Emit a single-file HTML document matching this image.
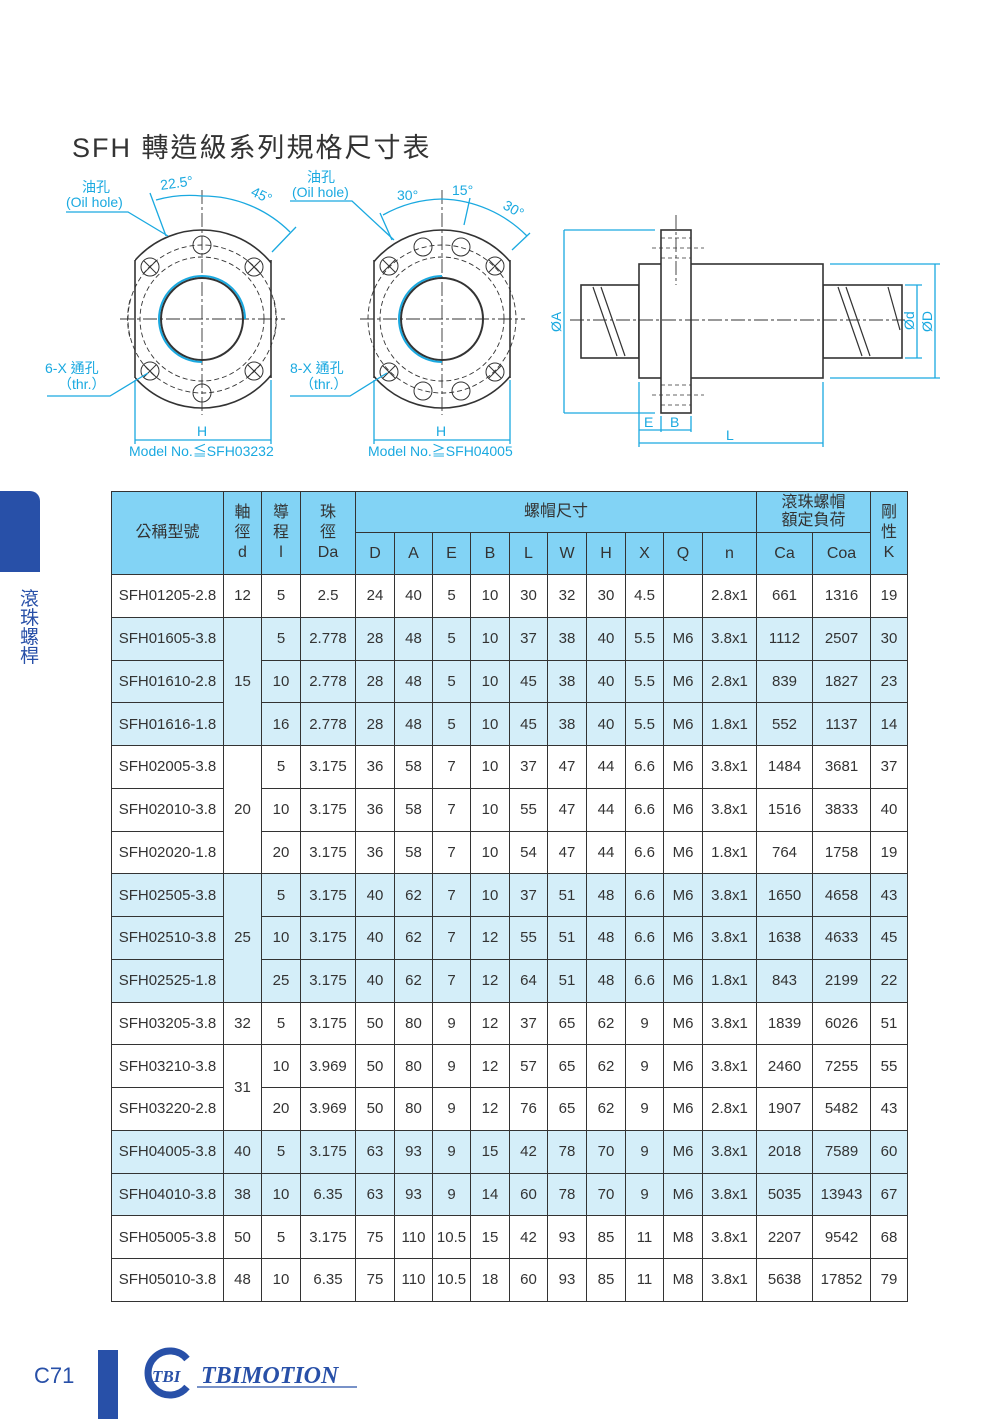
<!DOCTYPE html>
<html><head><meta charset="utf-8">
<style>
*{margin:0;padding:0;box-sizing:border-box}
body{width:1000px;height:1419px;background:#fff;position:relative;overflow:hidden;font-family:"Liberation Sans","Noto Sans CJK TC",sans-serif}
.abs{position:absolute}
table{position:absolute;left:111px;top:491px;border-collapse:collapse;table-layout:fixed;font-family:"Liberation Sans Narrow","Liberation Sans","Noto Sans CJK TC",sans-serif;font-size:15px;color:#333}
td{border:1.3px solid #333;text-align:center;vertical-align:middle;padding:0;white-space:nowrap;overflow:hidden}
tr.d td{height:42.76px}
.h td{background:#82d3f5;line-height:20px;font-size:16px}
.b td{background:#d4eef9}
</style></head><body>
<div class="abs" style="left:72px;top:126px;font-size:27px;color:#333;font-family:'Liberation Sans','Noto Sans CJK TC',sans-serif;letter-spacing:2px">SFH 轉造級系列規格尺寸表</div>

<svg class="abs" style="left:0;top:0" width="1000" height="470" viewBox="0 0 1000 470">
<defs>
<clipPath id="c1"><rect x="135" y="200" width="136" height="240"/></clipPath>
<clipPath id="c2"><rect x="374" y="200" width="136" height="240"/></clipPath>
</defs>
<g fill="none" stroke="#333" stroke-width="1.6">
<g clip-path="url(#c1)"><circle cx="202" cy="319" r="89"/></g>
<line x1="135" y1="260" x2="135" y2="378"/><line x1="271" y1="260" x2="271" y2="378"/>
<circle cx="202" cy="319" r="41" stroke-width="2"/>
<g stroke-width="1"><circle cx="202" cy="245" r="9"/><circle cx="202" cy="393" r="9"/><circle cx="150" cy="267" r="9"/><circle cx="254" cy="267" r="9"/><circle cx="150" cy="371" r="9"/><circle cx="254" cy="371" r="9"/>
<line x1="144" y1="261" x2="156" y2="273"/><line x1="156" y1="261" x2="144" y2="273"/><line x1="248" y1="261" x2="260" y2="273"/><line x1="260" y1="261" x2="248" y2="273"/>
<line x1="144" y1="365" x2="156" y2="377"/><line x1="156" y1="365" x2="144" y2="377"/><line x1="248" y1="365" x2="260" y2="377"/><line x1="260" y1="365" x2="248" y2="377"/>
</g>
<g stroke-width="0.9" stroke-dasharray="5,3"><circle cx="202" cy="319" r="74"/><circle cx="202" cy="319" r="62"/>
<path d="M130 300 A76 76 0 0 0 130 338" /><path d="M274 300 A76 76 0 0 1 274 338"/></g>
<g stroke-width="0.9" stroke-dasharray="14,3,3,3"><line x1="120" y1="319" x2="285" y2="319"/><line x1="202" y1="190" x2="202" y2="415"/></g>
<g clip-path="url(#c2)"><circle cx="442" cy="319" r="89"/></g>
<line x1="374" y1="260" x2="374" y2="378"/><line x1="510" y1="260" x2="510" y2="378"/>
<circle cx="442" cy="319" r="41" stroke-width="2"/>
<g stroke-width="1"><circle cx="423" cy="247" r="9"/><circle cx="461" cy="247" r="9"/><circle cx="423" cy="391" r="9"/><circle cx="461" cy="391" r="9"/><circle cx="389" cy="266" r="9"/><circle cx="495" cy="266" r="9"/><circle cx="389" cy="372" r="9"/><circle cx="495" cy="372" r="9"/>
<line x1="383" y1="260" x2="395" y2="272"/><line x1="395" y1="260" x2="383" y2="272"/><line x1="489" y1="260" x2="501" y2="272"/><line x1="501" y1="260" x2="489" y2="272"/>
<line x1="383" y1="366" x2="395" y2="378"/><line x1="395" y1="366" x2="383" y2="378"/><line x1="489" y1="366" x2="501" y2="378"/><line x1="501" y1="366" x2="489" y2="378"/></g>
<g stroke-width="0.9" stroke-dasharray="5,3"><circle cx="442" cy="319" r="74"/><circle cx="442" cy="319" r="62"/></g>
<g stroke-width="0.9" stroke-dasharray="14,3,3,3"><line x1="360" y1="319" x2="525" y2="319"/><line x1="442" y1="190" x2="442" y2="415"/></g>
<rect x="581" y="285" width="58" height="73"/><rect x="823" y="285" width="79" height="73"/>
<rect x="639" y="264" width="184" height="114" fill="#fff"/>
<rect x="661" y="230" width="30" height="183" fill="#fff"/>
<g stroke-width="1.2"><line x1="593" y1="287" x2="617" y2="356"/><line x1="601" y1="287" x2="625" y2="356"/><line x1="838" y1="287" x2="862" y2="356"/><line x1="846" y1="287" x2="870" y2="356"/><line x1="888" y1="287" x2="900" y2="330"/></g>
<g stroke-width="0.9" stroke-dasharray="14,3,3,3"><line x1="570" y1="320" x2="905" y2="320"/><line x1="676" y1="215" x2="676" y2="285"/></g>
<g stroke-width="0.8" stroke-dasharray="4,3"><line x1="661" y1="238" x2="691" y2="238"/><line x1="661" y1="258" x2="691" y2="258"/><line x1="652" y1="248" x2="704" y2="248"/><line x1="661" y1="385" x2="691" y2="385"/><line x1="661" y1="405" x2="691" y2="405"/><line x1="652" y1="395" x2="704" y2="395"/></g>
</g>
<g fill="none" stroke="#1aa9e0" stroke-width="1.3">
<path d="M245 319 A43 43 0 1 0 202 362" stroke-width="2"/>
<path d="M442 276 A43 43 0 0 0 442 362" stroke-width="2"/>
<polyline points="66,212 128,212 168,236"/>
<line x1="150" y1="193" x2="166" y2="236"/>
<path d="M156 200 A124 124 0 0 1 202 196"/>
<path d="M202 196 A124 124 0 0 1 290 232"/>
<line x1="272" y1="252" x2="296" y2="227"/>
<polyline points="290,201 352,201 394,240"/>
<line x1="380" y1="213" x2="392" y2="240"/>
<path d="M383 215 A125 125 0 0 1 442 199"/>
<line x1="470" y1="198" x2="464" y2="225"/>
<path d="M442 199 A125 125 0 0 1 527 236"/>
<line x1="512" y1="250" x2="530" y2="233"/>
<polyline points="47,396 110,396 148,373"/>
<polyline points="290,396 350,396 387,373"/>
<line x1="135" y1="380" x2="135" y2="444"/><line x1="271" y1="380" x2="271" y2="444"/><line x1="135" y1="440" x2="271" y2="440"/>
<line x1="374" y1="380" x2="374" y2="444"/><line x1="510" y1="380" x2="510" y2="444"/><line x1="374" y1="440" x2="510" y2="440"/>
<line x1="564" y1="230" x2="564" y2="413"/><line x1="564" y1="230" x2="655" y2="230"/><line x1="564" y1="413" x2="655" y2="413"/>
<line x1="917" y1="285" x2="917" y2="358"/><line x1="905" y1="285" x2="922" y2="285"/><line x1="905" y1="358" x2="922" y2="358"/>
<line x1="935" y1="264" x2="935" y2="378"/><line x1="830" y1="264" x2="940" y2="264"/><line x1="830" y1="378" x2="940" y2="378"/>
<line x1="639" y1="382" x2="639" y2="447"/><line x1="661" y1="416" x2="661" y2="432"/><line x1="691" y1="416" x2="691" y2="432"/><line x1="823" y1="382" x2="823" y2="447"/>
<line x1="639" y1="430" x2="691" y2="430"/><line x1="639" y1="443" x2="823" y2="443"/>
</g>
<g fill="#1aa9e0" font-family="Liberation Sans,Noto Sans CJK TC,sans-serif" font-size="14">
<text x="82" y="192">油孔</text><text x="66" y="207">(Oil hole)</text>
<text x="161" y="190" transform="rotate(-8 161 190)">22.5°</text>
<text x="250" y="195" transform="rotate(25 250 195)">45°</text>
<text x="307" y="182">油孔</text><text x="292" y="197">(Oil hole)</text>
<text x="397" y="200">30°</text><text x="452" y="195">15°</text>
<text x="502" y="208" transform="rotate(30 502 208)">30°</text>
<text x="45" y="373">6-X 通孔</text><text x="58" y="389">（thr.）</text>
<text x="290" y="373">8-X 通孔</text><text x="300" y="389">（thr.）</text>
<text x="197" y="436">H</text><text x="436" y="436">H</text>
<text x="129" y="456">Model No.≦SFH03232</text><text x="368" y="456">Model No.≧SFH04005</text>
<text x="644" y="427">E</text><text x="670" y="427">B</text><text x="726" y="440">L</text>
<text x="561" y="332" transform="rotate(-90 561 332)">ØA</text>
<text x="914" y="330" transform="rotate(-90 914 330)">Ød</text>
<text x="932" y="332" transform="rotate(-90 932 332)">ØD</text>
</g>
</svg>

<div class="abs" style="left:0;top:491px;width:40px;height:81px;background:#2850a8;border-top-right-radius:10px"></div>
<div class="abs" style="left:20px;top:588px;width:22px;font-size:19px;line-height:19px;color:#2850a8;font-family:'Noto Sans CJK TC',sans-serif">滾<br>珠<br>螺<br>桿</div>

<table>
<colgroup><col style="width:112px"><col style="width:38px"><col style="width:39px"><col style="width:55px"><col style="width:39px"><col style="width:38px"><col style="width:38px"><col style="width:39px"><col style="width:38px"><col style="width:39px"><col style="width:39px"><col style="width:38px"><col style="width:39px"><col style="width:54px"><col style="width:56px"><col style="width:58px"><col style="width:37px"></colgroup>
<tr class="h" style="height:41px"><td rowspan="2">公稱型號</td><td rowspan="2">軸<br>徑<br>d</td><td rowspan="2">導<br>程<br>l</td><td rowspan="2">珠<br>徑<br>Da</td><td colspan="10">螺帽尺寸</td><td colspan="2" style="line-height:18px">滾珠螺帽<br>額定負荷</td><td rowspan="2">剛<br>性<br>K</td></tr>
<tr class="h" style="height:42px"><td>D</td><td>A</td><td>E</td><td>B</td><td>L</td><td>W</td><td>H</td><td>X</td><td>Q</td><td>n</td><td>Ca</td><td>Coa</td></tr>
<tr class="d"><td>SFH01205-2.8</td><td>12</td><td>5</td><td>2.5</td><td>24</td><td>40</td><td>5</td><td>10</td><td>30</td><td>32</td><td>30</td><td>4.5</td><td></td><td>2.8x1</td><td>661</td><td>1316</td><td>19</td></tr>
<tr class="d b"><td>SFH01605-3.8</td><td rowspan="3">15</td><td>5</td><td>2.778</td><td>28</td><td>48</td><td>5</td><td>10</td><td>37</td><td>38</td><td>40</td><td>5.5</td><td>M6</td><td>3.8x1</td><td>1112</td><td>2507</td><td>30</td></tr>
<tr class="d b"><td>SFH01610-2.8</td><td>10</td><td>2.778</td><td>28</td><td>48</td><td>5</td><td>10</td><td>45</td><td>38</td><td>40</td><td>5.5</td><td>M6</td><td>2.8x1</td><td>839</td><td>1827</td><td>23</td></tr>
<tr class="d b"><td>SFH01616-1.8</td><td>16</td><td>2.778</td><td>28</td><td>48</td><td>5</td><td>10</td><td>45</td><td>38</td><td>40</td><td>5.5</td><td>M6</td><td>1.8x1</td><td>552</td><td>1137</td><td>14</td></tr>
<tr class="d"><td>SFH02005-3.8</td><td rowspan="3">20</td><td>5</td><td>3.175</td><td>36</td><td>58</td><td>7</td><td>10</td><td>37</td><td>47</td><td>44</td><td>6.6</td><td>M6</td><td>3.8x1</td><td>1484</td><td>3681</td><td>37</td></tr>
<tr class="d"><td>SFH02010-3.8</td><td>10</td><td>3.175</td><td>36</td><td>58</td><td>7</td><td>10</td><td>55</td><td>47</td><td>44</td><td>6.6</td><td>M6</td><td>3.8x1</td><td>1516</td><td>3833</td><td>40</td></tr>
<tr class="d"><td>SFH02020-1.8</td><td>20</td><td>3.175</td><td>36</td><td>58</td><td>7</td><td>10</td><td>54</td><td>47</td><td>44</td><td>6.6</td><td>M6</td><td>1.8x1</td><td>764</td><td>1758</td><td>19</td></tr>
<tr class="d b"><td>SFH02505-3.8</td><td rowspan="3">25</td><td>5</td><td>3.175</td><td>40</td><td>62</td><td>7</td><td>10</td><td>37</td><td>51</td><td>48</td><td>6.6</td><td>M6</td><td>3.8x1</td><td>1650</td><td>4658</td><td>43</td></tr>
<tr class="d b"><td>SFH02510-3.8</td><td>10</td><td>3.175</td><td>40</td><td>62</td><td>7</td><td>12</td><td>55</td><td>51</td><td>48</td><td>6.6</td><td>M6</td><td>3.8x1</td><td>1638</td><td>4633</td><td>45</td></tr>
<tr class="d b"><td>SFH02525-1.8</td><td>25</td><td>3.175</td><td>40</td><td>62</td><td>7</td><td>12</td><td>64</td><td>51</td><td>48</td><td>6.6</td><td>M6</td><td>1.8x1</td><td>843</td><td>2199</td><td>22</td></tr>
<tr class="d"><td>SFH03205-3.8</td><td>32</td><td>5</td><td>3.175</td><td>50</td><td>80</td><td>9</td><td>12</td><td>37</td><td>65</td><td>62</td><td>9</td><td>M6</td><td>3.8x1</td><td>1839</td><td>6026</td><td>51</td></tr>
<tr class="d"><td>SFH03210-3.8</td><td rowspan="2">31</td><td>10</td><td>3.969</td><td>50</td><td>80</td><td>9</td><td>12</td><td>57</td><td>65</td><td>62</td><td>9</td><td>M6</td><td>3.8x1</td><td>2460</td><td>7255</td><td>55</td></tr>
<tr class="d"><td>SFH03220-2.8</td><td>20</td><td>3.969</td><td>50</td><td>80</td><td>9</td><td>12</td><td>76</td><td>65</td><td>62</td><td>9</td><td>M6</td><td>2.8x1</td><td>1907</td><td>5482</td><td>43</td></tr>
<tr class="d b"><td>SFH04005-3.8</td><td>40</td><td>5</td><td>3.175</td><td>63</td><td>93</td><td>9</td><td>15</td><td>42</td><td>78</td><td>70</td><td>9</td><td>M6</td><td>3.8x1</td><td>2018</td><td>7589</td><td>60</td></tr>
<tr class="d b"><td>SFH04010-3.8</td><td>38</td><td>10</td><td>6.35</td><td>63</td><td>93</td><td>9</td><td>14</td><td>60</td><td>78</td><td>70</td><td>9</td><td>M6</td><td>3.8x1</td><td>5035</td><td>13943</td><td>67</td></tr>
<tr class="d"><td>SFH05005-3.8</td><td>50</td><td>5</td><td>3.175</td><td>75</td><td>110</td><td>10.5</td><td>15</td><td>42</td><td>93</td><td>85</td><td>11</td><td>M8</td><td>3.8x1</td><td>2207</td><td>9542</td><td>68</td></tr>
<tr class="d"><td>SFH05010-3.8</td><td>48</td><td>10</td><td>6.35</td><td>75</td><td>110</td><td>10.5</td><td>18</td><td>60</td><td>93</td><td>85</td><td>11</td><td>M8</td><td>3.8x1</td><td>5638</td><td>17852</td><td>79</td></tr>
</table>

<div class="abs" style="left:34px;top:1363px;font-size:22px;color:#2850a8">C71</div>
<div class="abs" style="left:98px;top:1350px;width:20px;height:69px;background:#2850a8"></div>
<svg class="abs" style="left:135px;top:1345px" width="230" height="60" viewBox="0 0 230 60">
<path d="M52 14 A22 22 0 1 0 52 42" fill="none" stroke="#2850a8" stroke-width="7"/>
<text x="17" y="37" font-family="Liberation Serif,serif" font-style="italic" font-weight="bold" font-size="17" fill="#2850a8">TBI</text>
<text x="66" y="38" font-family="Liberation Serif,serif" font-style="italic" font-weight="bold" font-size="24" fill="#2850a8">TBIMOTION</text>
<line x1="62" y1="42" x2="222" y2="42" stroke="#2850a8" stroke-width="1.3"/>
</svg>
</body></html>
